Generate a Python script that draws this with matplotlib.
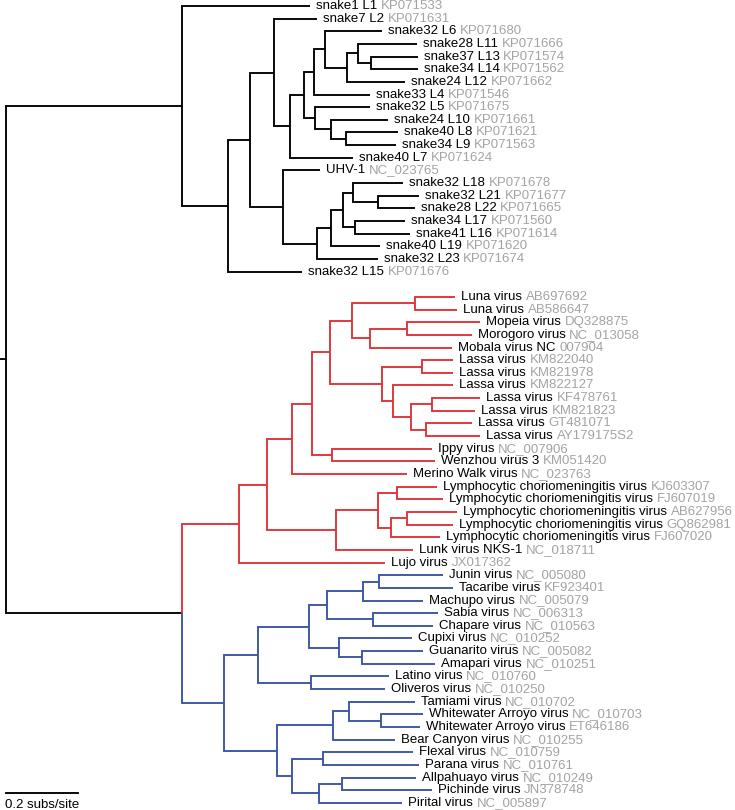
import matplotlib.pyplot as plt

plt.rcParams['font.family'] = ['Liberation Sans', 'DejaVu Sans']

# Internal nodes: (id, parent, distance from root in subs/site)
snake_nodes = [
    ("S0", "root", 0.489), ("S1", "S0", 0.617), ("S2", "S1", 0.678),
    ("S3", "S2", 0.744), ("S4", "S3", 0.789), ("S5", "S4", 0.828),
    ("S6", "S5", 0.856), ("S7", "S6", 0.886), ("S8", "S7", 0.947),
    ("S9", "S8", 0.978), ("S10", "S9", 1.014), ("S11", "S5", 0.858),
    ("S12", "S11", 0.903), ("S13", "S12", 0.944), ("S14", "S2", 0.769),
    ("S15", "S14", 0.864), ("S16", "S15", 0.903), ("S17", "S16", 0.936),
    ("S18", "S17", 0.964), ("S19", "S18", 1.033), ("S20", "S17", 0.969),
]
arena_nodes = [
    ("A0", "root", 0.489),
    ("R0", "A0", 0.647), ("R1", "R0", 0.725), ("R2", "R1", 0.794),
    ("R3", "R2", 0.850), ("R4", "R3", 0.900), ("R5", "R4", 0.961),
    ("R6", "R5", 1.136), ("R7", "R5", 1.011), ("R8", "R7", 1.114),
    ("R9", "R4", 1.044), ("R10", "R9", 1.156), ("R11", "R9", 1.075),
    ("R12", "R11", 1.125), ("R13", "R12", 1.183), ("R14", "R12", 1.167),
    ("R15", "R3", 0.906), ("R16", "R1", 0.917), ("R17", "R16", 1.033),
    ("R18", "R17", 1.086), ("R19", "R17", 1.069), ("R20", "R19", 1.114),
    ("B0", "A0", 0.606), ("B1", "B0", 0.700), ("B2", "B1", 0.842),
    ("B3", "B2", 0.892), ("B4", "B3", 0.992), ("B5", "B4", 1.036),
    ("B6", "B3", 1.019), ("B7", "B2", 0.925), ("B8", "B7", 0.989),
    ("B9", "B1", 0.847), ("B10", "B0", 0.753), ("B11", "B10", 0.908),
    ("B12", "B11", 0.953), ("B13", "B12", 1.042), ("B14", "B10", 0.794),
    ("B15", "B14", 0.881), ("B16", "B14", 0.869), ("B17", "B16", 0.933),
]

# Leaves, top to bottom: (name, accession, parent, distance from root)
snake_leaves = [
    ("snake1 L1", "KP071533", "S0", 0.844),
    ("snake7 L2", "KP071631", "S3", 0.864),
    ("snake32 L6", "KP071680", "S7", 1.044),
    ("snake28 L11", "KP071666", "S9", 1.142),
    ("snake37 L13", "KP071574", "S10", 1.144),
    ("snake34 L14", "KP071562", "S10", 1.144),
    ("snake24 L12", "KP071662", "S8", 1.108),
    ("snake33 L4", "KP071546", "S6", 1.011),
    ("snake32 L5", "KP071675", "S11", 1.011),
    ("snake24 L10", "KP071661", "S12", 1.061),
    ("snake40 L8", "KP071621", "S13", 1.089),
    ("snake34 L9", "KP071563", "S13", 1.083),
    ("snake40 L7", "KP071624", "S4", 0.964),
    ("UHV-1", "NC_023765", "S14", 0.872),
    ("snake32 L18", "KP071678", "S18", 1.103),
    ("snake32 L21", "KP071677", "S19", 1.147),
    ("snake28 L22", "KP071665", "S19", 1.136),
    ("snake34 L17", "KP071560", "S20", 1.108),
    ("snake41 L16", "KP071614", "S20", 1.122),
    ("snake40 L19", "KP071620", "S16", 1.039),
    ("snake32 L23", "KP071674", "S15", 1.033),
    ("snake32 L15", "KP071676", "S1", 0.822),
]
arena_leaves = [
    ("Luna virus", "AB697692", "R6", 1.247),
    ("Luna virus", "AB586647", "R6", 1.253),
    ("Mopeia virus", "DQ328875", "R8", 1.317),
    ("Morogoro virus", "NC_013058", "R8", 1.294),
    ("Mobala virus NC", "007904", "R7", 1.239),
    ("Lassa virus", "KM822040", "R10", 1.242),
    ("Lassa virus", "KM821978", "R10", 1.242),
    ("Lassa virus", "KM822127", "R11", 1.242),
    ("Lassa virus", "KF478761", "R13", 1.317),
    ("Lassa virus", "KM821823", "R13", 1.303),
    ("Lassa virus", "GT481071", "R14", 1.294),
    ("Lassa virus", "AY179175S2", "R14", 1.317),
    ("Ippy virus", "NC_007906", "R15", 1.183),
    ("Wenzhou virus 3", "KM051420", "R15", 1.192),
    ("Merino Walk virus", "NC_023763", "R2", 1.114),
    ("Lymphocytic choriomeningitis virus", "KJ603307", "R18", 1.197),
    ("Lymphocytic choriomeningitis virus", "FJ607019", "R18", 1.214),
    ("Lymphocytic choriomeningitis virus", "AB627956", "R20", 1.253),
    ("Lymphocytic choriomeningitis virus", "GQ862981", "R20", 1.242),
    ("Lymphocytic choriomeningitis virus", "FJ607020", "R19", 1.206),
    ("Lunk virus NKS-1", "NC_018711", "R16", 1.131),
    ("Lujo virus", "JX017362", "R0", 1.053),
    ("Junin virus", "NC_005080", "B5", 1.214),
    ("Tacaribe virus", "KF923401", "B5", 1.242),
    ("Machupo virus", "NC_005079", "B4", 1.158),
    ("Sabia virus", "NC_006313", "B6", 1.200),
    ("Chapare virus", "NC_010563", "B6", 1.186),
    ("Cupixi virus", "NC_010252", "B7", 1.128),
    ("Guanarito virus", "NC_005082", "B8", 1.158),
    ("Amapari virus", "NC_010251", "B8", 1.192),
    ("Latino virus", "NC_010760", "B9", 1.064),
    ("Oliveros virus", "NC_010250", "B9", 1.053),
    ("Tamiami virus", "NC_010702", "B12", 1.136),
    ("Whitewater Arroyo virus", "NC_010703", "B13", 1.158),
    ("Whitewater Arroyo virus", "ET646186", "B13", 1.150),
    ("Bear Canyon virus", "NC_010255", "B11", 1.081),
    ("Flexal virus", "NC_010759", "B15", 1.131),
    ("Parana virus", "NC_010761", "B15", 1.147),
    ("Allpahuayo virus", "NC_010249", "B17", 1.139),
    ("Pichinde virus", "JN378748", "B17", 1.183),
    ("Pirital virus", "NC_005897", "B16", 1.100),
]

clade_colours = {"R0": "#dd3338", "B0": "#3a53a2"}
scale_length = 0.2

# Collect tree
parent = {}
depth = {"root": 0.0}
ypos = {}
for nid, par, d in snake_nodes + arena_nodes:
    parent[nid] = par
    depth[nid] = d

leaf_ids = []
row = 0
for group in (snake_leaves, arena_leaves):
    for name, acc, par, d in group:
        lid = "leaf%d" % row
        parent[lid] = par
        depth[lid] = d
        ypos[lid] = row
        leaf_ids.append((lid, name, acc))
        row += 1
    row += 1  # empty row between snake and arenavirus clades

children = {}
for nid, par in parent.items():
    children.setdefault(par, []).append(nid)


def get_y(nid):
    if nid not in ypos:
        ys = [get_y(c) for c in children[nid]]
        ypos[nid] = (min(ys) + max(ys)) / 2
    return ypos[nid]


def get_colour(nid):
    if nid in clade_colours:
        return clade_colours[nid]
    if nid == "root":
        return "black"
    return get_colour(parent[nid])


get_y("root")

fig = plt.figure(figsize=(7.35, 8.10), dpi=100)
ax = fig.add_axes([0, 0, 1, 1])

# branches
for nid, par in parent.items():
    px = depth[par]
    ax.plot([px, px, depth[nid]], [ypos[par], ypos[nid], ypos[nid]],
            color=get_colour(nid), lw=1.35, solid_joinstyle='miter',
            solid_capstyle='butt')
ax.plot([-0.02, 0], [ypos["root"], ypos["root"]], color="black", lw=1.35)

# leaf labels
pad = 0.016
for lid, name, acc in leaf_ids:
    t = ax.text(depth[lid] + pad, ypos[lid], name, fontsize=9.5,
                va='center', ha='left', color='black')
    ax.annotate(acc, xy=(1, 0.5), xycoords=t, xytext=(2.8, 0),
                textcoords='offset points', va='center', ha='left',
                fontsize=9.5, color='#a3a3a3')

# scale bar
ax.plot([0, scale_length], [62.2, 62.2], color="black", lw=1.35)
ax.text(-0.002, 63.2, "%.1f subs/site" % scale_length, fontsize=9.5,
        va='center', ha='left')

ax.set_xlim(-6 / 360, 729 / 360)
ax.set_ylim(63.56, -0.474)
ax.axis('off')

fig.savefig("out.png", dpi=100)
